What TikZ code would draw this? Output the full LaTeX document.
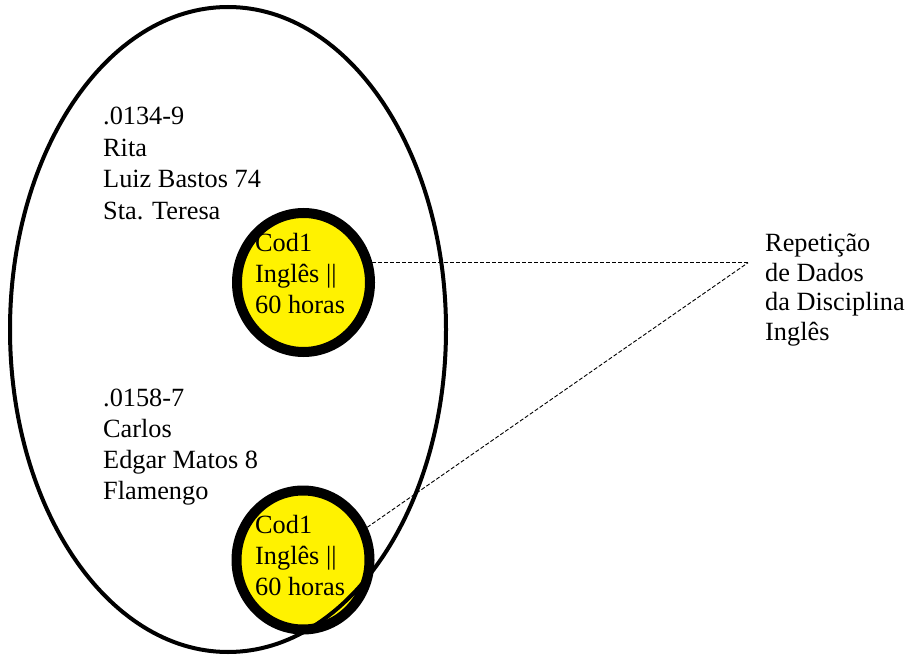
\documentclass[tikz,border=0pt]{standalone}
\usepackage{fontspec}
\setmainfont{Liberation Serif}
\usetikzlibrary{shapes.geometric}

% stacked lines, anchored on the baseline of the first line
\newcommand\textlines[2]{{\fontsize{26.3}{#1}\selectfont
  \begin{tabular}[t]{@{}l@{}}#2\end{tabular}}}

\begin{document}
\begin{tikzpicture}[x=1pt,y=-1pt,
  bigset/.style={ellipse,draw=black,line width=4pt,inner sep=0pt,
    minimum width=436pt,minimum height=645pt},
  course/.style={ellipse,draw=black,fill=yellow,line width=10pt,inner sep=0pt,
    minimum width=133pt,minimum height=139pt},
  record/.style={anchor=base west,inner sep=0pt,text=black},
  link/.style={dashed,dash pattern=on 4pt off 2pt,line width=0.9pt}]
\useasboundingbox (0,0) rectangle (910,660);

% the two course records
\node[course] (c1) at (303.5,282.5) {};
\node[course] (c2) at (303,560) {};

% the enclosing set
\node[bigset] (set) at (228,329.5) {};

% connectors to the note on the right
\coordinate (tip) at (c1.16 -| 748,0);
\draw[link] (c1.16) -- (tip);
\draw[link] (c2.27) -- (tip);

% student data
\node[record] (s1) at (103,125) {\textlines{31.4pt}{.0134-9\\Rita\\Luiz Bastos 74\\Sta. Teresa}};
\node[record] (s2) at (103,406.5) {\textlines{31.1pt}{.0158-7\\Carlos\\Edgar Matos 8\\Flamengo}};

% course data
\node[record] (d1) at (255,252) {\textlines{30.6pt}{Cod1\\Inglês ||\\60 horas}};
\node[record] (d2) at (255,533.5) {\textlines{31pt}{Cod1\\Inglês ||\\60 horas}};

% note
\node[record] (note) at (765,251.7) {\textlines{29.6pt}{Repetição\\de Dados\\da Disciplina\\Inglês}};
\end{tikzpicture}
\end{document}
